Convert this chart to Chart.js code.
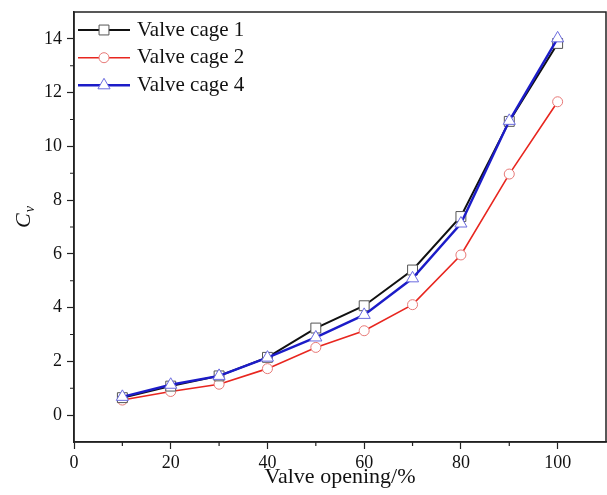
<!DOCTYPE html>
<html>
<head>
<meta charset="utf-8">
<script src="https://cdn.jsdelivr.net/npm/chart.js@4.4.1/dist/chart.umd.min.js"></script>
<style>
  html, body { margin: 0; padding: 0; background: #fff; }
  canvas { display: block; }
</style>
</head>
<body>
<canvas id="cvChart" width="607" height="495"></canvas>
<script>
// valve opening (%) and flow coefficient Cv
const openings = [10, 20, 30, 40, 50, 60, 70, 80, 90, 100];
const cage1 = [0.65, 1.08, 1.46, 2.15, 3.24, 4.07, 5.40, 7.39, 10.93, 13.83];
const cage2 = [0.56, 0.88, 1.15, 1.73, 2.52, 3.14, 4.11, 5.96, 8.97, 11.66];
const cage4 = [0.68, 1.13, 1.46, 2.14, 2.89, 3.73, 5.09, 7.13, 10.95, 14.02];

const xTicks = [0, 20, 40, 60, 80, 100];
const xMinor = [10, 30, 50, 70, 90];
const yTicks = [0, 2, 4, 6, 8, 10, 12, 14];
const yMinor = [1, 3, 5, 7, 9, 11, 13];

const SERIF = '"Liberation Serif", "Times New Roman", serif';
const AXIS = '#222';

const series = [
  { label: 'Valve cage 1', data: cage1, line: '#111111', lw: 2,   mark: '#555', style: 'rect',     r: 7, order: 1 },
  { label: 'Valve cage 2', data: cage2, line: '#e8261f', lw: 1.6, mark: '#e87a78', style: 'circle', r: 5, order: 2 },
  { label: 'Valve cage 4', data: cage4, line: '#1c1cc8', lw: 2.4, mark: '#6c6ce0', style: 'triangle', r: 7, order: 0 },
];

function drawMarker(ctx, s, x, y) {
  ctx.save();
  ctx.lineWidth = 1;
  ctx.strokeStyle = s.mark;
  ctx.fillStyle = '#fff';
  ctx.beginPath();
  if (s.style === 'rect') {
    const h = s.r * Math.SQRT1_2;
    ctx.rect(x - h, y - h, 2 * h, 2 * h);
  } else if (s.style === 'circle') {
    ctx.arc(x, y, s.r, 0, Math.PI * 2);
  } else {
    const r = s.r;
    ctx.moveTo(x, y - r);
    ctx.lineTo(x + r * 0.866, y + r * 0.5);
    ctx.lineTo(x - r * 0.866, y + r * 0.5);
    ctx.closePath();
  }
  ctx.fill();
  ctx.stroke();
  ctx.restore();
}

const framePlugin = {
  id: 'frame',
  beforeDraw(chart) {
    const ctx = chart.ctx;
    ctx.save();
    ctx.fillStyle = '#fff';
    ctx.fillRect(0, 0, chart.width, chart.height);
    ctx.restore();
  },
  afterDraw(chart) {
    const { ctx, chartArea: a, scales } = chart;
    ctx.save();
    // box round the plot
    ctx.strokeStyle = AXIS;
    ctx.lineWidth = 1.5;
    ctx.strokeRect(a.left, a.top, a.right - a.left, a.bottom - a.top);

    // minor ticks
    ctx.lineWidth = 1.2;
    ctx.beginPath();
    xMinor.forEach(v => {
      const px = scales.x.getPixelForValue(v);
      ctx.moveTo(px, a.bottom);
      ctx.lineTo(px, a.bottom + 4);
    });
    yMinor.forEach(v => {
      const py = scales.y.getPixelForValue(v);
      ctx.moveTo(a.left, py);
      ctx.lineTo(a.left - 4, py);
    });
    ctx.stroke();

    // y title: italic C with subscript v
    ctx.fillStyle = '#111';
    ctx.translate(30, 228);
    ctx.rotate(-Math.PI / 2);
    ctx.textBaseline = 'alphabetic';
    ctx.font = 'italic 22px ' + SERIF;
    ctx.fillText('C', 0, 0);
    const cw = ctx.measureText('C').width;
    ctx.font = 'italic 14px ' + SERIF;
    ctx.fillText('v', cw + 1, 4);
    ctx.restore();

    // legend inside the plot
    ctx.save();
    const rows = [30, 57.7, 85.3];
    series.forEach((s, i) => {
      const y = rows[i];
      ctx.strokeStyle = s.line;
      ctx.lineWidth = s.lw;
      ctx.beginPath();
      ctx.moveTo(78, y);
      ctx.lineTo(130, y);
      ctx.stroke();
      drawMarker(ctx, s, 104, y);
      ctx.fillStyle = '#111';
      ctx.font = '21px ' + SERIF;
      ctx.textBaseline = 'middle';
      ctx.fillText(s.label, 137, y);
    });
    ctx.restore();
  }
};

new Chart(document.getElementById('cvChart'), {
  type: 'line',
  data: {
    datasets: series.map(s => ({
      label: s.label,
      data: openings.map((x, i) => ({ x: x, y: s.data[i] })),
      borderColor: s.line,
      borderWidth: s.lw,
      pointStyle: s.style,
      pointRadius: s.r,
      pointBorderWidth: 1,
      pointBorderColor: s.mark,
      pointBackgroundColor: '#fff',
      tension: 0,
      fill: false,
      order: s.order
    }))
  },
  options: {
    responsive: false,
    animation: false,
    events: [],
    layout: { autoPadding: false, padding: { left: 0, top: 12, right: 1, bottom: 0 } },
    plugins: {
      legend: { display: false },
      tooltip: { enabled: false }
    },
    scales: {
      x: {
        type: 'linear',
        min: 0,
        max: 110,
        afterBuildTicks: s => { s.ticks = xTicks.map(v => ({ value: v })); },
        afterFit: s => { s.height = 53; s.paddingLeft = 0; s.paddingRight = 0; },
        grid: { drawOnChartArea: false, drawTicks: true, tickLength: 7, tickColor: AXIS, tickWidth: 1.2 },
        border: { display: true, color: AXIS, width: 1.5 },
        ticks: { color: '#111', font: { family: SERIF, size: 18 }, padding: 3, maxRotation: 0 },
        title: {
          display: true,
          text: 'Valve opening/%',
          color: '#111',
          font: { family: SERIF, size: 22 },
          padding: { top: 0, bottom: 5 }
        }
      },
      y: {
        type: 'linear',
        min: -1,
        max: 15,
        afterBuildTicks: s => { s.ticks = yTicks.map(v => ({ value: v })); },
        afterFit: s => { s.width = 74; s.paddingTop = 0; s.paddingBottom = 0; },
        grid: { drawOnChartArea: false, drawTicks: true, tickLength: 7, tickColor: AXIS, tickWidth: 1.2 },
        border: { display: true, color: AXIS, width: 1.5 },
        ticks: { color: '#111', font: { family: SERIF, size: 18 }, padding: 5 }
      }
    }
  },
  plugins: [framePlugin]
});
</script>
</body>
</html>
